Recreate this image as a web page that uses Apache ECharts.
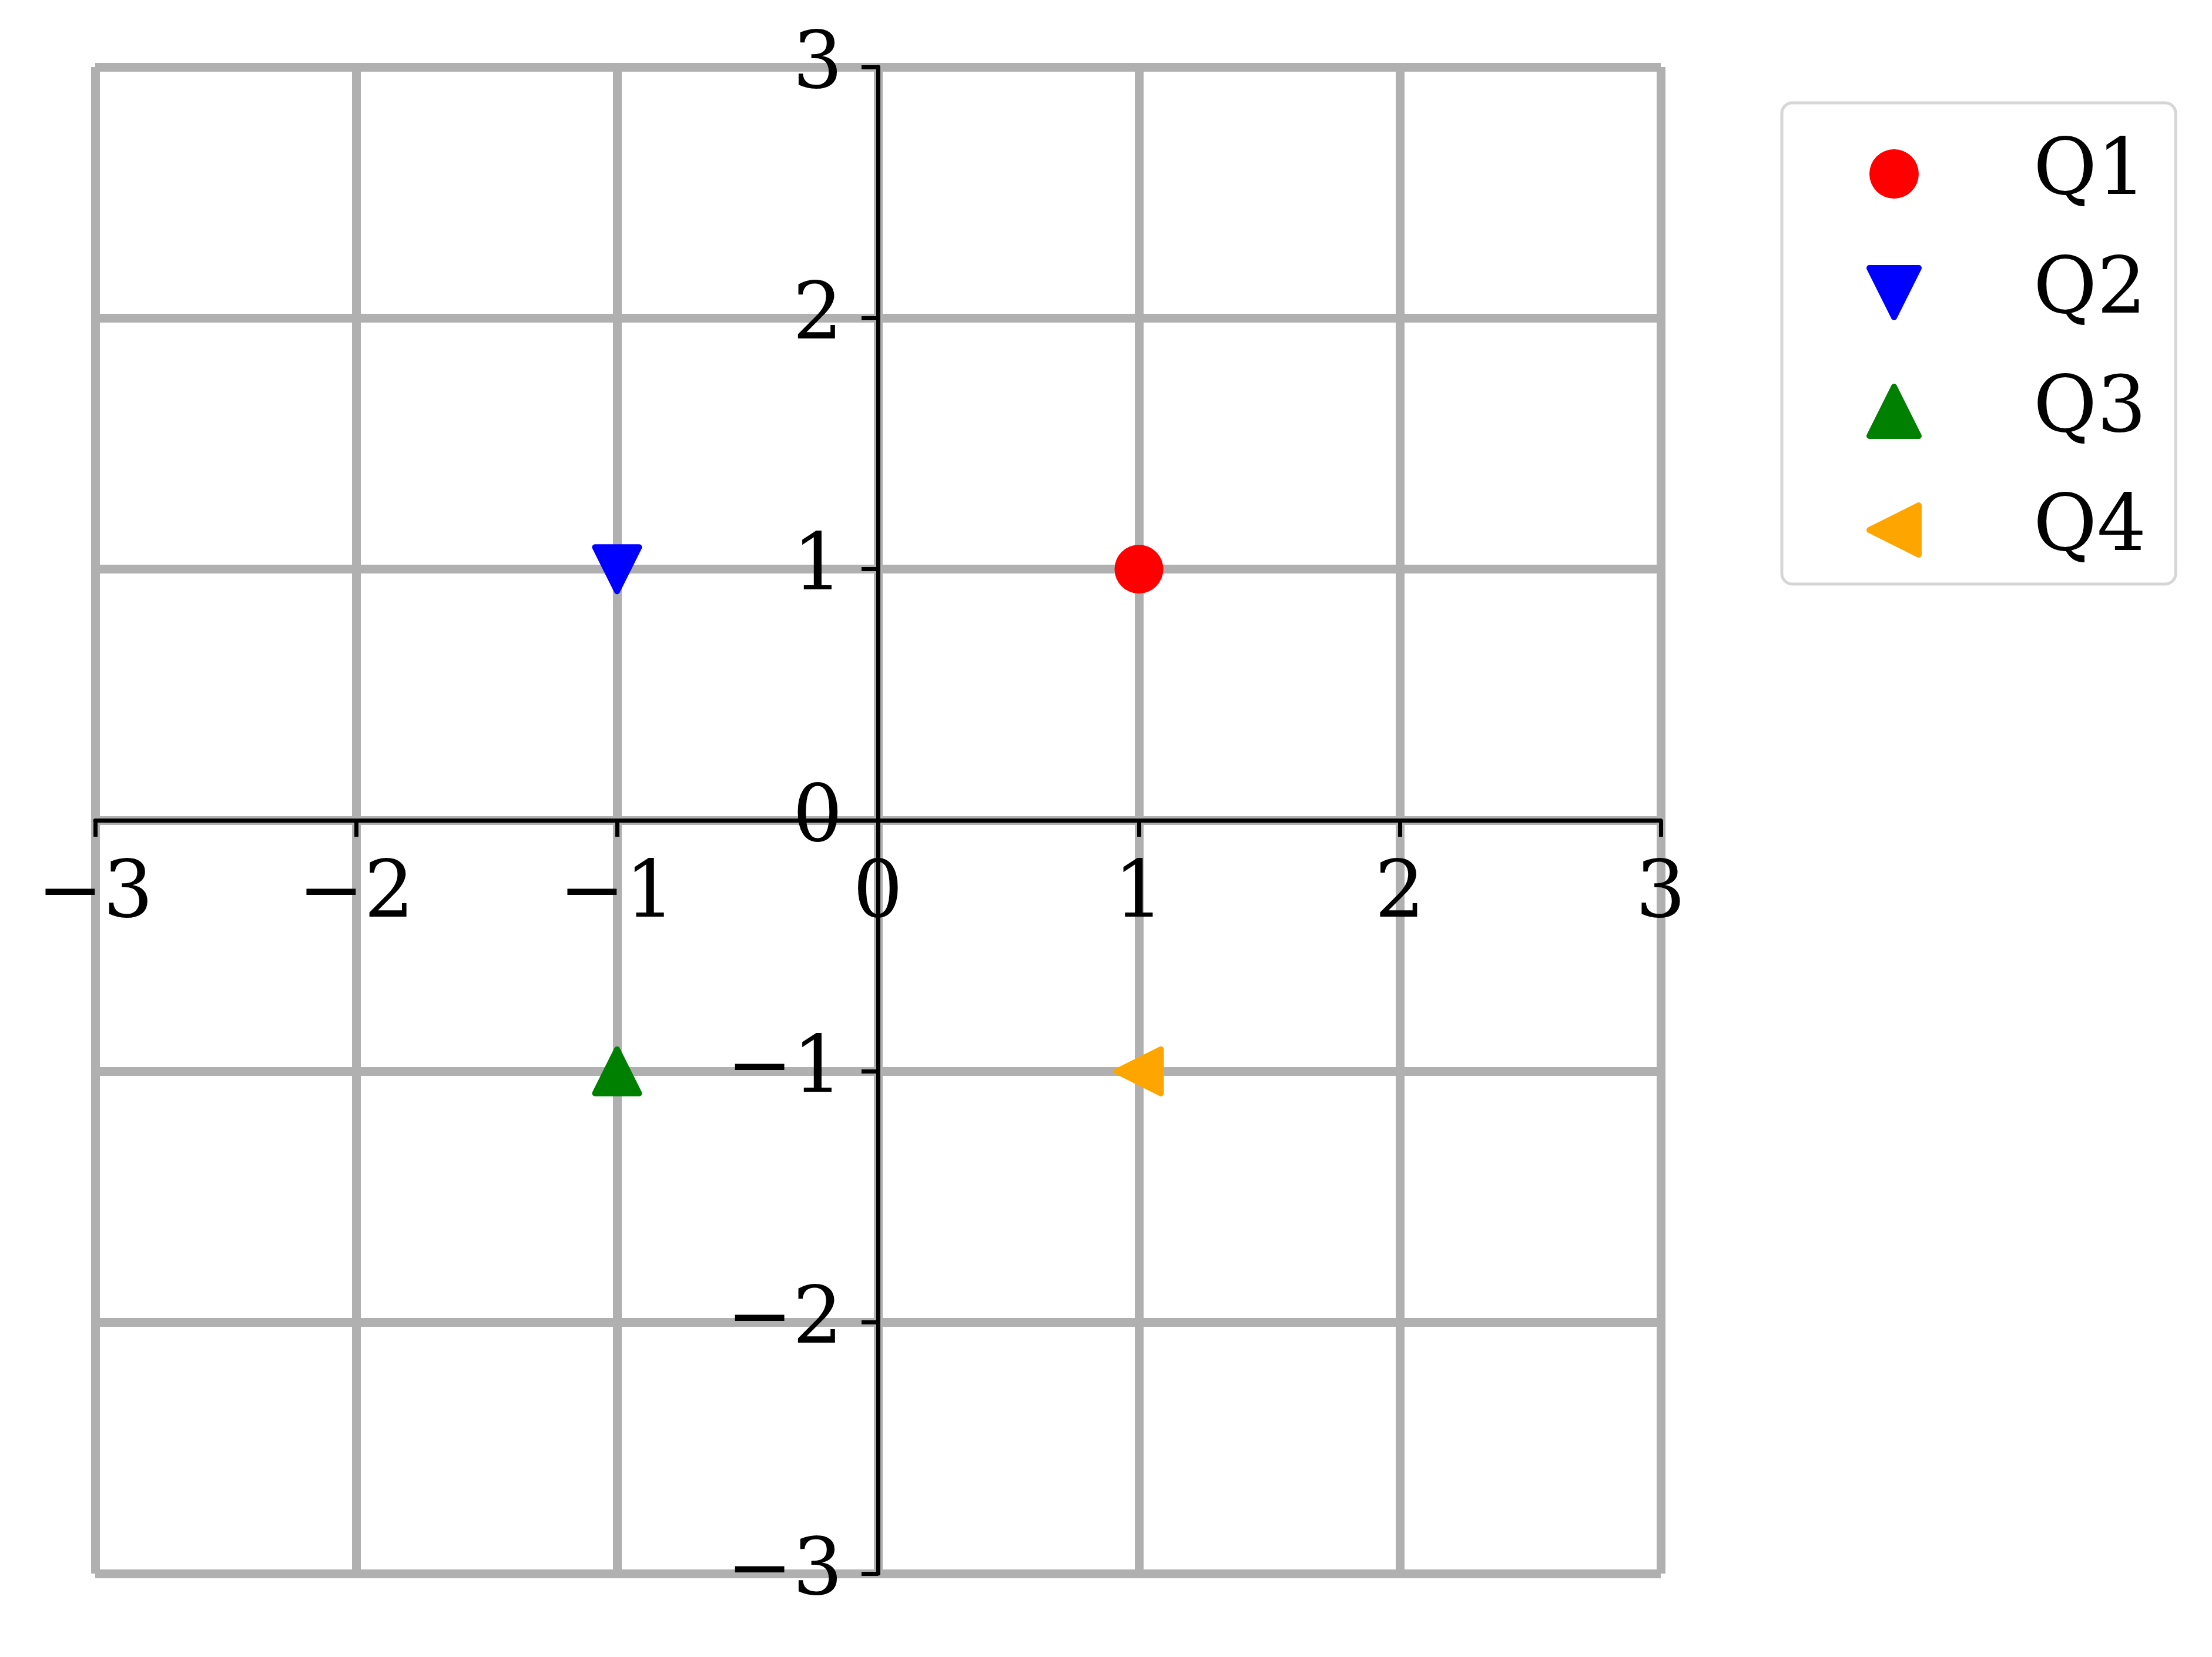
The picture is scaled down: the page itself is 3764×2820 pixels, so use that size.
<!DOCTYPE html>
<html>
<head>
<meta charset="utf-8">
<script src="https://cdn.jsdelivr.net/npm/echarts@6/dist/echarts.min.js"></script>
<style>
html,body{margin:0;padding:0;background:#fff;}
#chart{width:3764px;height:2820px;}
</style>
</head>
<body>
<div id="chart"></div>
<script>
// Data
const seriesNames = ['Q1', 'Q2', 'Q3', 'Q4'];
const q1Points = [[1, 1]];
const q2Points = [[-1, 1]];
const q3Points = [[-1, -1]];
const q4Points = [[1, -1]];
const xTicks = [-3, -2, -1, 0, 1, 2, 3];
const yTicks = [-3, -2, -1, 0, 1, 2, 3];

const FONT = 'DejaVu Serif';
const fmt = v => (v < 0 ? '\u2212' + Math.abs(v) : String(v));

const GRID = {left: 162, right: 938, top: 114, bottom: 142};
const W = 3764, H = 2820;
const plotW = W - GRID.left - GRID.right;
const plotH = H - GRID.top - GRID.bottom;

const chart = echarts.init(document.getElementById('chart'), null, {renderer: 'canvas'});

function axisCommon(ticks) {
  return {
    type: 'value',
    min: ticks[0],
    max: ticks[ticks.length - 1],
    interval: 1,
    axisLine: {show: true, onZero: false, lineStyle: {color: '#000', width: 7}},
    axisTick: {show: true, length: 28, lineStyle: {color: '#000', width: 7}},
    splitLine: {show: true, lineStyle: {color: '#b0b0b0', width: 15}},
    axisLabel: {
      show: true, color: '#000', fontFamily: FONT, fontSize: 134,
      formatter: fmt, showMinLabel: true, showMaxLabel: true,
      hideOverlap: false
    }
  };
}

const xAxis = axisCommon(xTicks);
xAxis.position = 'bottom';
xAxis.offset = -plotH / 2;
xAxis.axisLabel.margin = 62;
const yAxis = axisCommon(yTicks);
yAxis.position = 'left';
yAxis.offset = -plotW / 2;
yAxis.axisLabel.margin = 60;

const colors = ['#ff0000', '#0000ff', '#008000', '#ffa500'];
const symbols = ['circle', 'triangle', 'triangle', 'triangle'];
const rotations = [0, 180, 0, 90];
const legendIcons = [
  'circle',
  'path://M0,0 L10,0 L5,10 Z',
  'path://M5,0 L10,10 L0,10 Z',
  'path://M0,5 L10,0 L10,10 Z'
];
const dataSets = [q1Points, q2Points, q3Points, q4Points];

const series = seriesNames.map((name, i) => ({
  name: name,
  type: 'scatter',
  data: dataSets[i],
  symbol: symbols[i],
  symbolRotate: rotations[i],
  symbolSize: i === 0 ? 83 : 75,
  itemStyle: {
    color: colors[i],
    borderColor: colors[i],
    borderWidth: i === 0 ? 0 : 10,
    borderJoin: 'round',
    opacity: 1
  },
  z: 10
}));

chart.setOption({
  animation: false,
  backgroundColor: '#fff',
  grid: Object.assign({containLabel: false, outerBoundsMode: 'none'}, GRID),
  xAxis: xAxis,
  yAxis: yAxis,
  legend: {
    show: true,
    orient: 'vertical',
    left: 3032,
    top: 175,
    data: seriesNames.map((n, i) => ({
      name: n,
      icon: legendIcons[i],
      itemStyle: {color: colors[i], borderColor: colors[i], borderWidth: i === 0 ? 0 : 10, borderJoin: 'round'}
    })),
    itemWidth: 84,
    itemHeight: 84,
    itemGap: 70,
    padding: [55, 50, 26, 144],
    backgroundColor: '#fff',
    borderColor: '#d6d6d6',
    borderWidth: 5,
    borderRadius: 18,
    textStyle: {
      fontFamily: FONT, fontSize: 132, color: '#000',
      lineHeight: 84,
      padding: [0, 0, 0, 190]
    }
  },
  series: series
});
</script>
</body>
</html>
